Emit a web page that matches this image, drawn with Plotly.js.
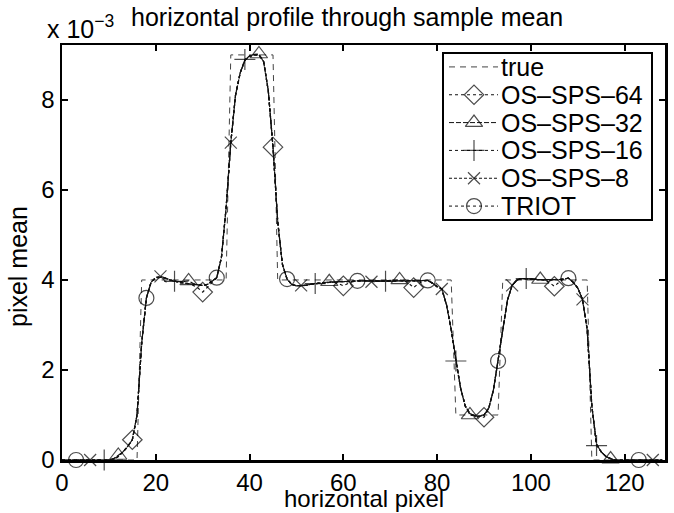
<!DOCTYPE html>
<html>
<head>
<meta charset="utf-8">
<script src="https://cdn.plot.ly/plotly-3.0.1.min.js"></script>
<style>html,body{margin:0;padding:0;background:#fff;}#chart{width:674px;height:513px;}</style>
</head>
<body>
<div id="chart"></div>
<script>
// horizontal pixel positions 0..128
var pixels = [];
for (var i = 0; i <= 128; i++) pixels.push(i);

// true profile (corner points of the piecewise-constant object), units of 1e-3
var trueX = [0, 16, 17, 35, 36, 45, 46, 83, 84, 93, 94, 112, 113, 128];
var trueY = [0, 0, 4, 4, 9, 9, 4, 4, 1, 1, 4, 4, 0, 0];

// reconstructed profiles, units of 1e-3, one value per pixel 0..128
var triot = [
 0,0,0,0,0,0,0,0,0,0,
 0,0.02,0.08,0.18,0.3,0.45,1.0,2.6,3.6,3.95,
 4.05,4.06,4.04,4.0,3.97,3.95,3.93,3.92,3.9,3.89,
 3.88,3.9,3.97,4.05,4.5,5.6,7.05,8.1,8.6,8.88,
 8.97,9.0,9.0,8.85,8.2,6.95,5.3,4.35,4.02,3.9,
 3.87,3.87,3.88,3.9,3.92,3.93,3.94,3.95,3.96,3.96,
 3.96,3.97,3.97,3.98,3.98,3.98,3.97,3.97,3.97,3.97,
 3.98,3.98,3.98,3.98,3.98,3.98,3.98,3.98,3.99,3.93,
 3.85,3.8,3.45,2.9,2.2,1.6,1.2,1.03,0.98,0.97,
 1.0,1.15,1.55,2.2,2.95,3.55,3.88,4.0,4.03,4.03,
 4.02,4.01,4.0,4.0,4.0,4.0,4.01,4.02,4.04,3.95,
 3.82,3.57,2.9,1.2,0.35,0.18,0.08,0.03,0,0,
 0,0,0,0,0,0,0,0,0
];
var sps64 = [
 0,0,0,0,0,0,0,0,0,0,
 0,0.02,0.08,0.18,0.3,0.45,1.0,2.6,3.6,3.95,
 4.05,4.06,4.04,4.0,3.97,3.95,3.93,3.92,3.88,3.82,
 3.73,3.83,3.95,4.05,4.5,5.6,7.05,8.1,8.6,8.88,
 8.97,9.0,9.0,8.85,8.2,6.95,5.3,4.35,4.02,3.9,
 3.87,3.87,3.88,3.9,3.92,3.93,3.94,3.95,3.95,3.92,
 3.87,3.92,3.96,3.98,3.98,3.98,3.97,3.97,3.97,3.97,
 3.98,3.98,3.98,3.98,3.92,3.83,3.92,3.97,3.99,3.93,
 3.85,3.8,3.45,2.9,2.2,1.6,1.2,1.03,0.98,0.95,
 0.95,1.13,1.55,2.2,2.95,3.55,3.88,4.0,4.03,4.03,
 4.02,4.01,4.0,4.0,3.94,3.86,3.95,4.02,4.04,3.95,
 3.82,3.57,2.9,1.2,0.35,0.18,0.08,0.03,0,0,
 -0.06,0,0,0,0,0,0,0,0
];
var sps32 = [
 0,0,0,0,0,0,0,0,0,0,
 0,0.03,0.1,0.18,0.3,0.45,1.0,2.6,3.6,3.95,
 4.05,4.06,4.04,4.0,3.97,3.96,3.97,3.98,3.92,3.89,
 3.88,3.9,3.97,4.05,4.5,5.6,7.05,8.1,8.6,8.88,
 8.98,9.01,9.02,8.86,8.2,6.95,5.3,4.35,4.02,3.9,
 3.87,3.87,3.88,3.9,3.92,3.93,3.94,3.96,3.96,3.96,
 3.96,3.97,3.97,3.98,3.98,3.98,3.97,3.97,3.97,3.98,
 3.99,4.0,4.0,3.99,3.98,3.98,3.98,3.98,3.99,3.93,
 3.85,3.8,3.45,2.9,2.2,1.6,1.2,1.0,0.98,0.97,
 1.0,1.15,1.55,2.2,2.95,3.55,3.88,4.0,4.03,4.03,
 4.02,4.01,4.01,4.0,4.0,4.0,4.01,4.02,4.04,3.95,
 3.82,3.57,2.9,1.2,0.35,0.18,0.08,0.02,0,0,
 0,0,0,0,0,0,0,0,0
];
var sps16 = [
 0,0,0,0,0,0,0,0,0,0,
 0,0.02,0.08,0.18,0.3,0.45,1.0,2.6,3.6,3.95,
 4.05,4.06,4.04,4.0,3.97,3.95,3.93,3.92,3.9,3.89,
 3.88,3.9,3.97,4.05,4.5,5.6,7.05,8.1,8.6,8.9,
 8.97,9.0,9.0,8.85,8.2,6.95,5.3,4.35,4.02,3.9,
 3.87,3.87,3.88,3.9,3.92,3.93,3.94,3.95,3.96,3.96,
 3.96,3.97,3.97,3.98,3.98,3.98,3.97,3.97,3.97,3.97,
 3.98,3.98,3.98,3.98,3.98,3.98,3.98,3.98,3.99,3.93,
 3.85,3.8,3.45,2.9,2.2,1.6,1.2,1.03,0.98,0.97,
 1.0,1.15,1.55,2.2,2.95,3.55,3.88,4.0,4.03,4.03,
 4.02,4.01,4.0,4.0,4.0,4.0,4.01,4.02,4.04,3.95,
 3.82,3.57,2.9,1.2,0.32,0.18,0.08,0.03,0,0,
 0,0,0,0,0,0,0,0,0
];
var sps8 = [
 0,0,0,0,0,0,0,0,0,0,
 0,0.02,0.08,0.18,0.3,0.45,1.0,2.6,3.6,3.95,
 4.06,4.08,4.05,4.0,3.97,3.95,3.93,3.92,3.9,3.89,
 3.88,3.9,3.97,4.05,4.5,5.6,7.05,8.1,8.6,8.88,
 8.97,9.0,9.0,8.85,8.2,6.95,5.3,4.35,4.02,3.9,
 3.87,3.88,3.88,3.9,3.92,3.93,3.94,3.95,3.96,3.96,
 3.96,3.97,3.97,3.98,3.98,3.98,3.96,3.97,3.97,3.97,
 3.98,3.98,3.98,3.98,3.98,3.98,3.98,3.98,3.99,3.93,
 3.85,3.8,3.45,2.9,2.2,1.6,1.2,1.03,0.98,0.97,
 1.0,1.15,1.55,2.2,2.95,3.55,3.88,4.0,4.03,4.03,
 4.02,4.01,4.0,4.0,4.0,4.0,4.01,4.02,4.04,3.95,
 3.82,3.57,2.9,1.2,0.35,0.18,0.08,0.03,0,0,
 0,0,0,0,0,0,0,0,0
];

var seriesNames = ['OS\u2013SPS\u201364', 'OS\u2013SPS\u201332', 'OS\u2013SPS\u201316', 'OS\u2013SPS\u20138', 'TRIOT'];
var seriesValues = [sps64, sps32, sps16, sps8, triot];
var xTickVals = [0, 20, 40, 60, 80, 100, 120];
var yTickVals = [0, 2, 4, 6, 8];

// ---- styling ----
var markerOffsets = [15, 12, 9, 6, 3];   // first pixel carrying a marker
var markerStep = 15;
var symbols = ['diamond-open', 'triangle-up-open', 'cross-thin-open', 'x-thin-open', 'circle-open'];
var symSizes = [15, 15, 15, 12, 15];
var dashes = ['dot', '5px,2px', 'dot', '3px,2px', 'dot'];
var FONT = 'Liberation Sans, Arial, Helvetica, sans-serif';
var FS = 25;
var txt = {family: FONT, size: FS, color: '#000'};
var tickTxt = {family: FONT, size: 24, color: '#000'};

// plot area in page pixels (left, right, top, bottom)
var PL = 62, PR = 665, PT = 45, PB = 460;
function px(x) { return (x - PL) / (PR - PL); }   // page px -> paper x
function py(y) { return (PB - y) / (PB - PT); }   // page px -> paper y

var traces = [{
  x: trueX, y: trueY, name: 'true', mode: 'lines', showlegend: false,
  line: {color: '#444', width: 1, dash: '6px,5px'},
  cliponaxis: false
}];
for (var s = 0; s < seriesNames.length; s++) {
  var sizes = pixels.map(function (p) {
    return (p >= markerOffsets[s] && (p - markerOffsets[s]) % markerStep === 0) ? symSizes[s] : 0;
  });
  traces.push({
    x: pixels, y: seriesValues[s], name: seriesNames[s], mode: 'lines+markers', showlegend: false,
    line: {color: '#111', width: 1.2, dash: dashes[s]},
    marker: {symbol: symbols[s], size: sizes, color: '#000', line: {color: '#000', width: 1.2}},
    cliponaxis: false
  });
}

// ---- hand-drawn legend on a pixel overlay axis ----
var legTop = 53, legBottom = 220, legLeft = 443, legRight = 652;
var legNames = ['true'].concat(seriesNames);
var legStep = (legBottom - legTop) / legNames.length;
var annotations = [];
for (var k = 0; k < legNames.length; k++) {
  var yy = legTop + legStep * (k + 0.5);
  var tr = {
    x: [449, 474, 498], y: [yy, yy, yy], xaxis: 'x2', yaxis: 'y2',
    showlegend: false, hoverinfo: 'skip', cliponaxis: false
  };
  if (k === 0) {
    tr.mode = 'lines';
    tr.line = {color: '#444', width: 1, dash: '6px,5px'};
  } else {
    tr.mode = 'lines+markers';
    tr.line = {color: '#111', width: 1, dash: dashes[k - 1]};
    tr.marker = {symbol: symbols[k - 1], size: [0, symSizes[k - 1], 0], color: '#000', line: {color: '#000', width: 1.2}};
  }
  traces.push(tr);
  annotations.push({
    text: legNames[k], xref: 'paper', yref: 'paper', x: px(500), y: py(yy), xanchor: 'left', yanchor: 'middle',
    showarrow: false, font: txt, borderpad: 0
  });
}
annotations.push({
  text: 'x 10<sup>\u22123</sup>', xref: 'paper', yref: 'paper', x: px(46), y: py(44),
  xanchor: 'left', yanchor: 'bottom', showarrow: false, font: txt, borderpad: 0
});
annotations.push({
  text: 'horizontal profile through sample mean', xref: 'paper', yref: 'paper', x: px(347), y: py(17),
  xanchor: 'center', yanchor: 'middle', showarrow: false, font: txt, borderpad: 0
});
annotations.push({
  text: 'horizontal pixel', xref: 'paper', yref: 'paper', x: px(364), y: py(513),
  xanchor: 'center', yanchor: 'bottom', showarrow: false, font: {family: FONT, size: 24, color: '#000'}, borderpad: 0
});
annotations.push({
  text: 'pixel mean', xref: 'paper', yref: 'paper', x: px(18), y: py(267), textangle: -90,
  xanchor: 'center', yanchor: 'middle', showarrow: false, font: txt, borderpad: 0
});

var layout = {
  width: 674, height: 513,
  margin: {l: PL, r: 674 - PR, t: PT, b: 513 - PB, pad: 0},
  paper_bgcolor: '#fff', plot_bgcolor: '#fff',
  font: txt,
  showlegend: false,
  xaxis: {
    range: [0, 128.6], tickmode: 'array', tickvals: xTickVals,
    ticks: 'inside', ticklen: 6, tickwidth: 2, tickcolor: '#000',
    showline: true, linewidth: 2.5, linecolor: '#000', mirror: 'ticks',
    showgrid: false, zeroline: false, tickfont: tickTxt
  },
  yaxis: {
    range: [0, 9.22], tickmode: 'array', tickvals: yTickVals,
    ticks: 'inside', ticklen: 6, tickwidth: 2, tickcolor: '#000',
    showline: true, linewidth: 2.5, linecolor: '#000', mirror: 'ticks',
    showgrid: false, zeroline: false, tickfont: tickTxt
  },
  xaxis2: {overlaying: 'x', anchor: 'y2', range: [PL, PR], visible: false, fixedrange: true},
  yaxis2: {overlaying: 'y', anchor: 'x2', range: [PB, PT], visible: false, fixedrange: true},
  shapes: [{
    type: 'rect', xref: 'paper', yref: 'paper', x0: px(legLeft), x1: px(legRight), y0: py(legTop), y1: py(legBottom),
    line: {color: '#000', width: 2}, fillcolor: '#fff', layer: 'below'
  }],
  annotations: annotations
};

Plotly.newPlot('chart', traces, layout, {displayModeBar: false, staticPlot: true});
</script>
</body>
</html>
